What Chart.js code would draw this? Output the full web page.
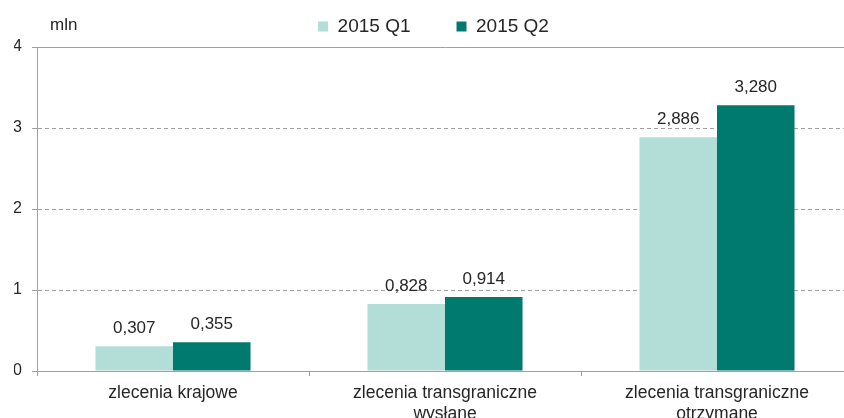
<!DOCTYPE html>
<html>
<head>
<meta charset="utf-8">
<script src="https://cdn.jsdelivr.net/npm/chart.js@4/dist/chart.umd.min.js"></script>
<style>
  html, body { margin: 0; padding: 0; background: #fff; }
  #wrap { width: 844px; height: 418px; overflow: hidden; position: relative; }
  #box { width: 860px; height: 440px; position: absolute; left: 0; top: 0; }
</style>
</head>
<body>
<div id="wrap"><div id="box"><canvas id="barChart"></canvas></div></div>
<script>
var categories = [
  ["zlecenia krajowe"],
  ["zlecenia transgraniczne", "wysłane"],
  ["zlecenia transgraniczne", "otrzymane"]
];
var q1_values = [0.307, 0.828, 2.886];
var q2_values = [0.355, 0.914, 3.280];
var series_names = ["2015 Q1", "2015 Q2"];
var y_ticks = [0, 1, 2, 3, 4];
var unit_label = "mln";

var font_family = "'Liberation Sans', Arial, sans-serif";
var text_col = '#262626';
var grid_col = '#a0a0a0';
var top_pad = -29;
var plot_top = 47;

// value labels over bars, polish decimal comma
var barLabels = {
  id: 'barLabels',
  afterDatasetsDraw: function(chart) {
    var ctx = chart.ctx;
    ctx.save();
    ctx.font = '17px ' + font_family;
    ctx.fillStyle = text_col;
    ctx.textAlign = 'center';
    ctx.textBaseline = 'alphabetic';
    chart.data.datasets.forEach(function(ds, di) {
      var meta = chart.getDatasetMeta(di);
      meta.data.forEach(function(bar, i) {
        var txt = ds.data[i].toFixed(3).replace('.', ',');
        ctx.fillText(txt, bar.x, bar.y - 13);
      });
    });
    ctx.restore();
  }
};

// unit text above y axis
var unitText = {
  id: 'unitText',
  afterDraw: function(chart) {
    var ctx = chart.ctx;
    ctx.save();
    ctx.font = '17px ' + font_family;
    ctx.fillStyle = text_col;
    ctx.textAlign = 'left';
    ctx.textBaseline = 'middle';
    ctx.fillText(unit_label, 50, 25);
    ctx.restore();
  }
};

// legend keeps wide item spacing but takes less height
var legendHeight = {
  id: 'legendHeight',
  beforeLayout: function(chart) {
    var lg = chart.legend;
    if (lg && !lg._fixed) {
      var orig = lg.fit;
      lg.fit = function() {
        orig.call(this);
        this.height = plot_top - top_pad;
      };
      lg._fixed = true;
    }
  }
};

var ctx = document.getElementById("barChart").getContext('2d');
window.bar_chart = new Chart(ctx, {
  type: 'bar',
  data: {
    labels: categories,
    datasets: [
      {
        label: series_names[0],
        data: q1_values,
        backgroundColor: '#b3ddd7',
        borderWidth: 0
      },
      {
        label: series_names[1],
        data: q2_values,
        backgroundColor: '#007a6e',
        borderWidth: 0
      }
    ]
  },
  options: {
    responsive: true,
    maintainAspectRatio: false,
    animation: false,
    layout: {
      padding: { top: top_pad, right: 7, left: 14, bottom: 0 }
    },
    datasets: {
      bar: { barPercentage: 1.0, categoryPercentage: 0.57 }
    },
    plugins: {
      tooltip: { enabled: false },
      legend: {
        display: true,
        position: 'top',
        labels: {
          boxWidth: 10,
          boxHeight: 10,
          padding: 46,
          color: text_col,
          font: { family: font_family, size: 19 }
        }
      }
    },
    scales: {
      x: {
        afterFit: function(scale) { scale.height = 69; },
        grid: {
          display: true,
          offset: true,
          drawOnChartArea: false,
          drawTicks: true,
          tickLength: 5,
          color: grid_col
        },
        border: { display: true, color: grid_col },
        ticks: {
          color: text_col,
          padding: 6,
          maxRotation: 0,
          font: { family: font_family, size: 17.5, lineHeight: 1.22 }
        }
      },
      y: {
        min: 0,
        max: 4,
        afterFit: function(scale) { scale.width = 23; },
        afterBuildTicks: function(scale) {
          scale.ticks = y_ticks.map(function(v) { return { value: v }; });
        },
        grid: {
          color: grid_col,
          tickLength: 5,
          drawTicks: true
        },
        border: {
          display: true,
          color: grid_col,
          dash: function(c) {
            if (c.type === 'tick' && c.tick && c.tick.value > 0 && c.tick.value < 4) {
              return [4, 3];
            }
            return [];
          }
        },
        ticks: {
          color: text_col,
          padding: 10,
          font: { family: font_family, size: 16 }
        }
      }
    }
  },
  plugins: [barLabels, unitText, legendHeight]
});
</script>
</body>
</html>
